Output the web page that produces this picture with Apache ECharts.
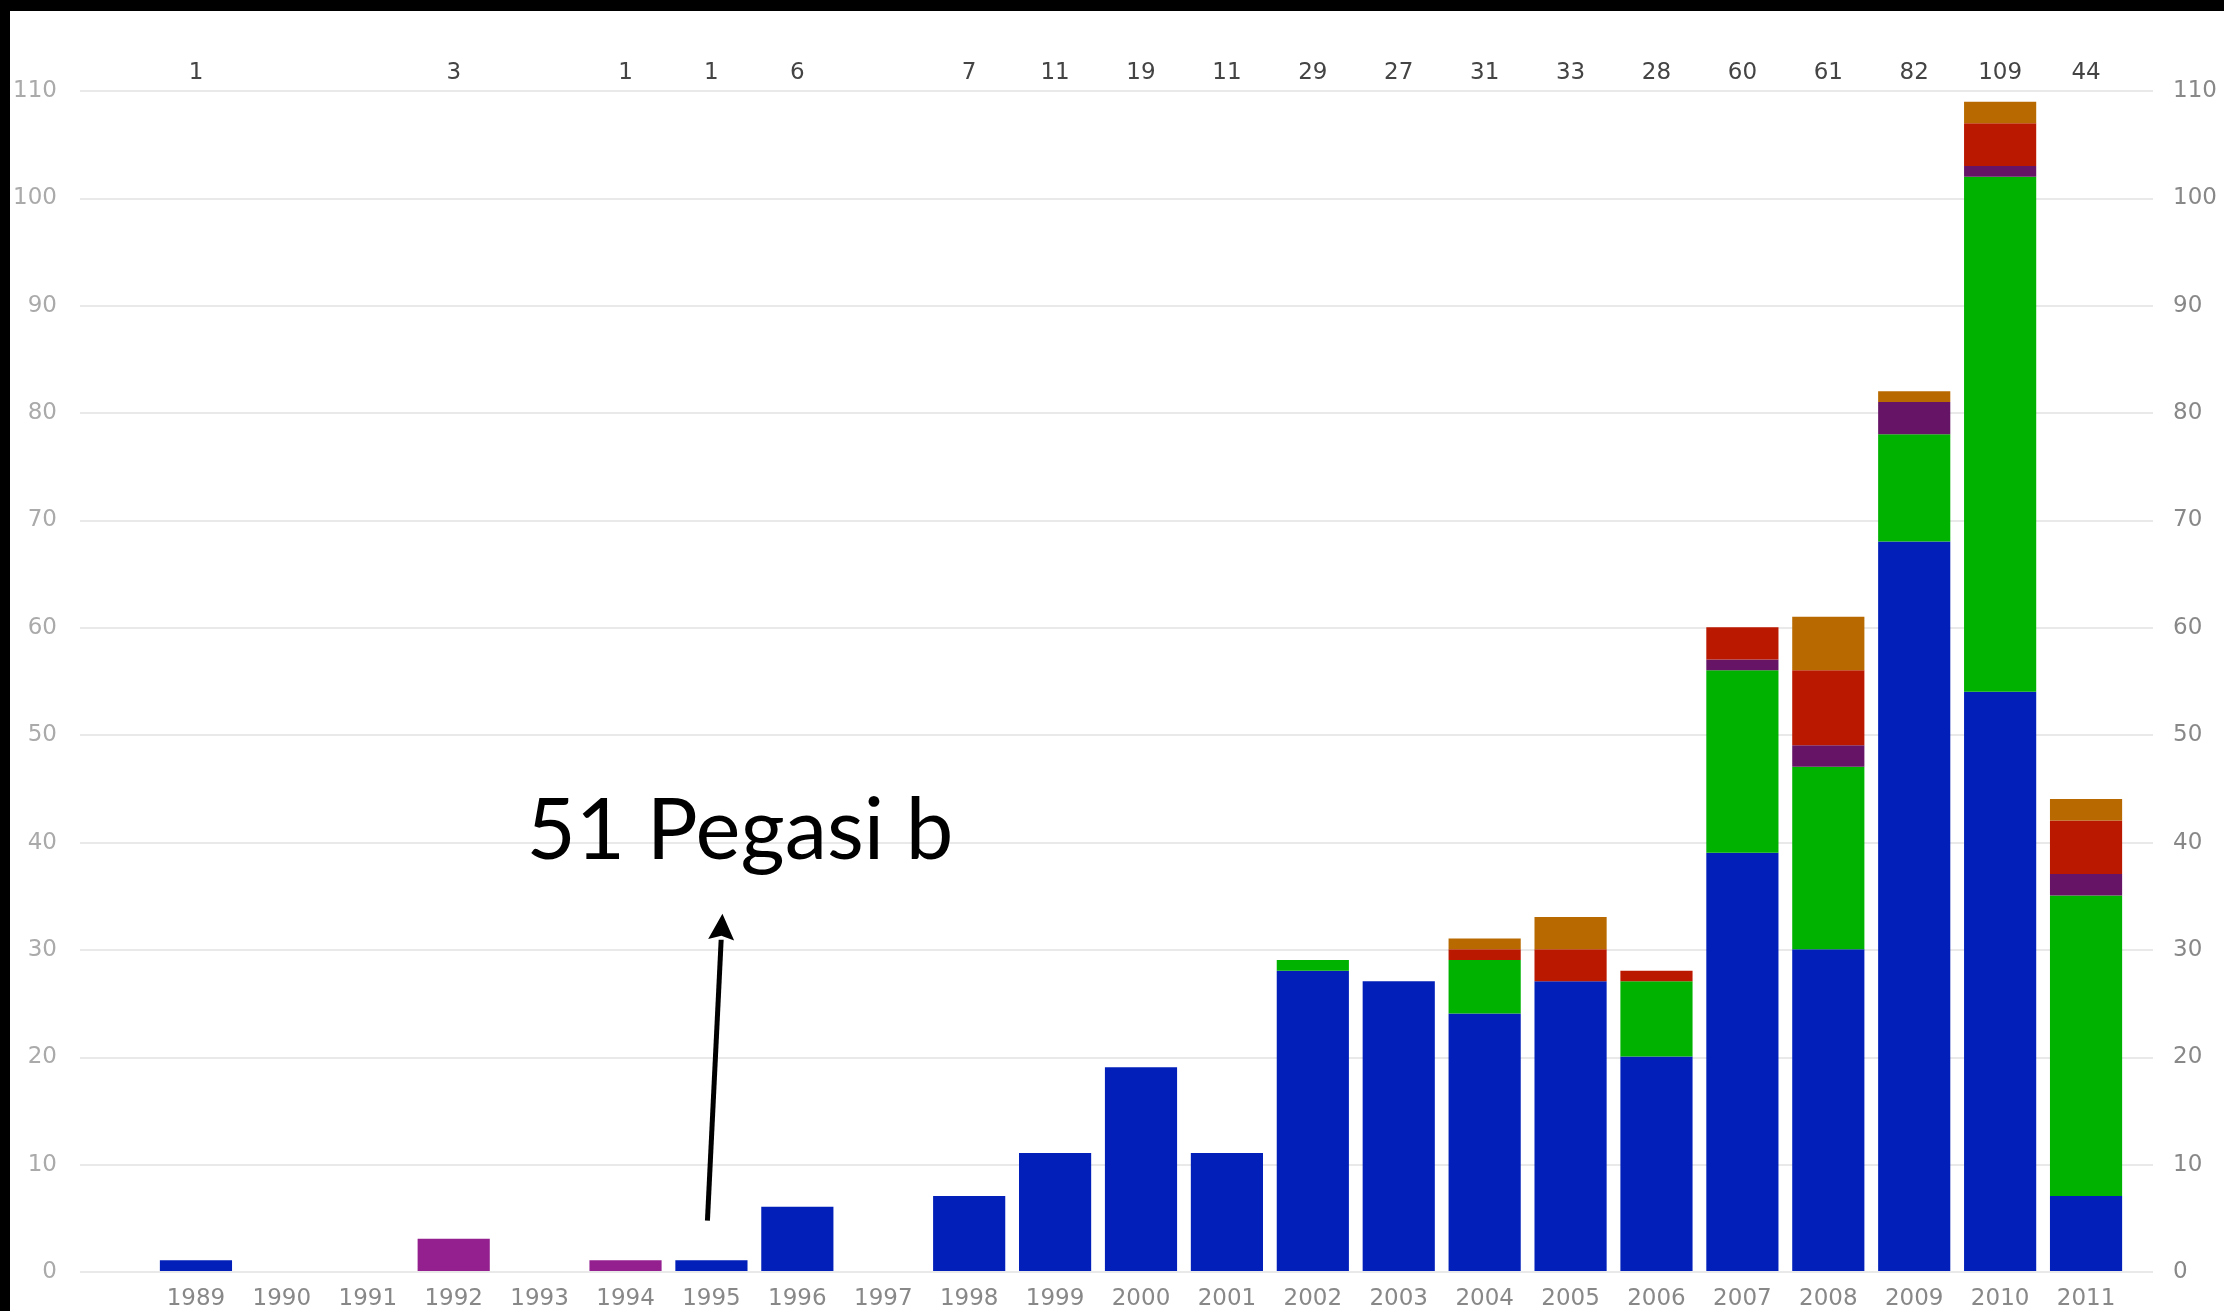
<!DOCTYPE html>
<html>
<head>
<meta charset="utf-8">
<script src="https://cdn.jsdelivr.net/npm/echarts@6/dist/echarts.min.js"></script>
<style>
html,body{margin:0;padding:0;background:#fff;}
#chart{width:2224px;height:1311px;}
</style>
</head>
<body>
<div id="chart"></div>
<script>
// ---- data ----
const years = ['1989','1990','1991','1992','1993','1994','1995','1996','1997','1998','1999','2000','2001','2002','2003','2004','2005','2006','2007','2008','2009','2010','2011'];
const radialVelocity = [1,0,0,0,0,0,1,6,0,7,11,19,11,28,27,24,27,20,39,30,68,54,7];
const transit        = [0,0,0,0,0,0,0,0,0,0,0,0,0,1,0,5,0,7,17,17,10,48,28];
const pulsar         = [0,0,0,3,0,1,0,0,0,0,0,0,0,0,0,0,0,0,0,0,0,0,0];
const timing         = [0,0,0,0,0,0,0,0,0,0,0,0,0,0,0,0,0,0,1,2,3,1,2];
const microlensing   = [0,0,0,0,0,0,0,0,0,0,0,0,0,0,0,1,3,1,3,7,0,4,5];
const imaging        = [0,0,0,0,0,0,0,0,0,0,0,0,0,0,0,1,3,0,0,5,1,2,2];
const yTicks = [0,10,20,30,40,50,60,70,80,90,100,110];
const annotationText = '51 Pegasi b';
const annotationYear = '1995';
const arrowFrom = 4.7;   // value at arrow tail
const arrowTo = 33.3;    // value at arrow tip

const stacks = [
  {name:'Radial velocity', data: radialVelocity, color:'#0220b9'},
  {name:'Transit', data: transit, color:'#00b200'},
  {name:'Pulsar', data: pulsar, color:'#942090'},
  {name:'Timing', data: timing, color:'#661566'},
  {name:'Microlensing', data: microlensing, color:'#bb1800'},
  {name:'Imaging', data: imaging, color:'#b86a00'}
];
const totals = years.map((y,i)=>stacks.reduce((s,st)=>s+st.data[i],0));
const totalLabels = totals.map(t => t > 0 ? String(t) : '');

const FONT = 'DejaVu Sans';
const chart = echarts.init(document.getElementById('chart'), null, {renderer:'canvas'});

const option = {
  backgroundColor:'#ffffff',
  animation:false,
  grid:[
    {left:80, right:71, top:91, bottom:39},
    {left:153, right:95, top:91, bottom:39}
  ],
  xAxis:[
    {gridIndex:0, type:'value', min:0, max:1, show:false},
    {gridIndex:1, type:'category', data:years, position:'bottom',
      axisLine:{show:false}, axisTick:{show:false},
      axisLabel:{interval:0, margin:17, color:'#888', fontFamily:FONT, fontSize:23}},
    {gridIndex:1, type:'category', data:totalLabels, position:'top',
      axisLine:{show:false}, axisTick:{show:false},
      axisLabel:{interval:0, margin:6, color:'#444', fontFamily:FONT, fontSize:23}}
  ],
  yAxis:[
    {gridIndex:0, type:'value', min:0, max:110, interval:10, position:'left',
      axisLine:{show:false}, axisTick:{show:false},
      axisLabel:{margin:23, color:'#aaa', fontFamily:FONT, fontSize:23},
      splitLine:{show:true, lineStyle:{color:'#e9e9e9', width:2}}},
    {gridIndex:0, type:'value', min:0, max:110, interval:10, position:'right',
      axisLine:{show:false}, axisTick:{show:false},
      axisLabel:{margin:20, color:'#888', fontFamily:FONT, fontSize:23},
      splitLine:{show:false}},
    {gridIndex:1, type:'value', min:0, max:110, interval:10, show:false}
  ],
  series: stacks.map(st => ({
    name: st.name, type:'bar', stack:'all', xAxisIndex:1, yAxisIndex:2,
    barCategoryGap:'16%',
    itemStyle:{color:st.color},
    data: st.data.map(v => v === 0 ? '-' : v)
  }))
};
chart.setOption(option);

// annotation anchored to data coordinates
const tail = chart.convertToPixel({xAxisIndex:1, yAxisIndex:2}, [annotationYear, arrowFrom]);
const tip = chart.convertToPixel({xAxisIndex:1, yAxisIndex:2}, [annotationYear, arrowTo]);
const tx = tail[0] - 4, ty = tail[1];
const hx = tip[0] + 11, hy = tip[1];
const dx = hx - tx, dy = hy - ty, len = Math.sqrt(dx*dx+dy*dy);
const ux = dx/len, uy = dy/len, nx = -uy, ny = ux;
const headLen = 26, headHalf = 13;
const bx = hx - ux*headLen, by = hy - uy*headLen;

chart.setOption({
  graphic:[
    {type:'line', z:100, shape:{x1:tx, y1:ty, x2:bx, y2:by}, style:{stroke:'#000', lineWidth:5}},
    {type:'polygon', z:100, shape:{points:[[hx,hy],[bx+nx*headHalf, by+ny*headHalf],[bx+ux*4, by+uy*4],[bx-nx*headHalf, by-ny*headHalf]]}, style:{fill:'#000'}},
    {type:'text', z:100, style:{text:annotationText, x:hx - 196, y:hy - 82, font:'85px Lato', fill:'#000', textAlign:'left', textVerticalAlign:'middle', verticalAlign:'middle'}},
    {type:'rect', z:200, shape:{x:0, y:0, width:2224, height:11}, style:{fill:'#000'}},
    {type:'rect', z:200, shape:{x:0, y:0, width:10, height:1311}, style:{fill:'#000'}}
  ]
});
</script>
</body>
</html>
